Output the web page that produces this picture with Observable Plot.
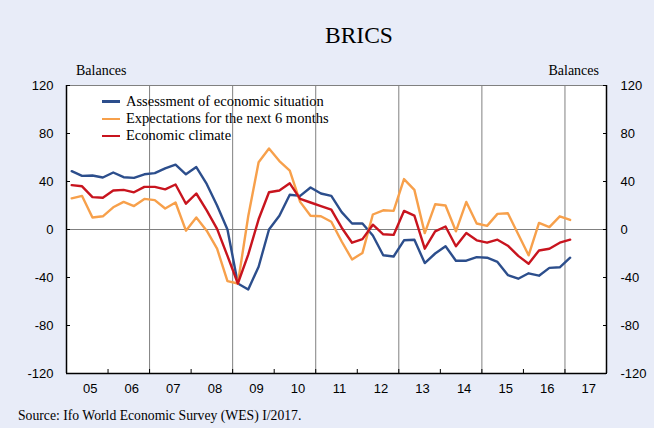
<!DOCTYPE html>
<html><head><meta charset="utf-8">
<script src="https://cdn.jsdelivr.net/npm/d3@7"></script>
<script src="https://cdn.jsdelivr.net/npm/@observablehq/plot@0.6"></script>
<style>
html,body{margin:0;padding:0;background:#e8ecf8;}
#wrap{position:relative;width:654px;height:428px;background:#e8ecf8;overflow:hidden;font-family:"Liberation Serif","Times New Roman",serif;color:#000;}
#chart{position:absolute;left:0;top:0;}
.t{position:absolute;white-space:nowrap;line-height:1;}
.lg{position:absolute;left:102px;width:18px;height:2.4px;}
</style></head><body>
<div id="wrap">
<div id="chart"></div>
<div class="t" style="left:325px;top:24px;font-size:23.5px;">BRICS</div>
<div class="t" style="left:76px;top:64px;font-size:14px;">Balances</div>
<div class="t" style="right:55px;top:64px;font-size:14px;">Balances</div>
<div id="legend"></div>
<div class="t" style="left:18px;top:409px;font-size:13.7px;">Source: Ifo World Economic Survey (WES) I/2017.</div>
</div>
<script>
// Series names and colours
const seriesNames = ["Assessment of economic situation", "Expectations for the next 6 months", "Economic climate"];
const seriesColors = ["#2c4e8c", "#f7a04b", "#c8141e"];

// Quarterly data, 2005 Q1 .. 2017 Q1 (49 quarters)
const firstYear = 2005;
const assessment = [48.6, 44.7, 45, 43.3, 47.5, 43.6, 43, 46, 47, 51, 54, 46, 52,
  38, 20, 0, -45, -50, -31, 0, 11.5, 29, 28, 35, 30, 28, 14.5, 5, 5, -5, -21.5, -22.5,
  -9, -8.5, -28, -20, -14, -26, -26, -23, -23.5, -27, -38, -41, -36.5, -38.5, -32, -31.5, -23.5];
const expectations = [26, 28, 10, 11, 18.5, 23, 19.5, 25.5, 24.5, 17.5, 22.5, -1, 10,
  -1, -16, -43, -45, 11, 56, 67.5, 57, 49, 23, 11.5, 11, 6.5, -10, -25, -19.5, 12.5, 16, 15.5,
  42, 33, -3, 21, 20, -1.5, 23, 5, 3, 13, 13.5, -4, -21.5, 5.5, 2, 11, 8];
const climate = [37, 36, 27, 26.5, 32.5, 33, 31, 35.5, 35.5, 33.5, 37.5, 21.5, 30,
  16, 0.5, -22, -45, -21, 8.5, 31, 32.5, 38.5, 25.5, 22.5, 19.5, 16.5, 1.5, -11, -8, 4, -4, -4.5,
  15.5, 11.5, -16, -1.5, 2.5, -14, -3, -9, -11, -8.5, -13.5, -22, -28.5, -17.5, -16, -11, -8.5];

// Axis ticks
const yTicks = [-120, -80, -40, 0, 40, 80, 120];
const yearLabels = ["05","06","07","08","09","10","11","12","13","14","15","16","17"];
const gridYears = [2007, 2009, 2011, 2013, 2015, 2017];

const seriesValues = [assessment, expectations, climate];
const rows = [];
seriesValues.forEach((vals, s) => {
  vals.forEach((v, i) => rows.push({series: seriesNames[s], t: firstYear + i / 4 + 0.125, v}));
});
const boundaries = d3.range(firstYear, firstYear + yearLabels.length + 1);
const centers = yearLabels.map((_, i) => firstYear + i + 0.5);
const fmtY = d => String(d);

const chart = Plot.plot({
  width: 654, height: 428,
  marginTop: 85, marginBottom: 55, marginLeft: 66, marginRight: 48,
  style: {background: "transparent", fontFamily: "'Liberation Sans', Arial, sans-serif", fontSize: "13px", color: "#000"},
  x: {domain: [firstYear, firstYear + yearLabels.length], axis: null},
  y: {domain: [-120, 120], axis: null},
  color: {domain: seriesNames, range: seriesColors},
  marks: [
    Plot.frame({fill: "white", stroke: "none"}),
    Plot.ruleX(gridYears, {stroke: "#808080", strokeWidth: 1}),
    Plot.ruleY([0], {stroke: "#808080", strokeWidth: 1}),
    Plot.ruleY([120], {stroke: "#808080", strokeWidth: 1}),
    Plot.axisY(yTicks, {anchor: "left", tickSize: -4, tickPadding: 17, label: null, stroke: "#000", tickFormat: fmtY}),
    Plot.axisY(yTicks, {anchor: "right", tickSize: -4, tickPadding: 18, label: null, stroke: "#000", tickFormat: fmtY}),
    Plot.axisX(boundaries, {anchor: "bottom", tickSize: -4, tickPadding: 0, tickFormat: () => "", label: null, stroke: "#000"}),
    Plot.axisX(centers, {anchor: "bottom", tickSize: 0, tickPadding: 10, dx: 3, label: null,
      tickFormat: (d) => yearLabels[Math.floor(d) - firstYear]}),
    Plot.lineY(rows, {x: "t", y: "v", z: "series", stroke: "series", strokeWidth: 2.4}),
    Plot.ruleX([firstYear, firstYear + yearLabels.length], {stroke: "#000", strokeWidth: 1.5}),
    Plot.ruleY([-120], {stroke: "#000", strokeWidth: 1.5})
  ]
});
document.getElementById("chart").appendChild(chart);

// Legend (HTML overlay inside plot area)
const legend = document.getElementById("legend");
seriesNames.forEach((name, i) => {
  const cy = 101.5 + i * 17.3;
  const line = document.createElement("div");
  line.className = "lg";
  line.style.top = (cy - 1.2) + "px";
  line.style.background = seriesColors[i];
  legend.appendChild(line);
  const txt = document.createElement("div");
  txt.className = "t";
  txt.style.left = "126px";
  txt.style.top = (cy - 7.8) + "px";
  txt.style.fontSize = "14.5px";
  txt.textContent = name;
  legend.appendChild(txt);
});
</script>
</body></html>
